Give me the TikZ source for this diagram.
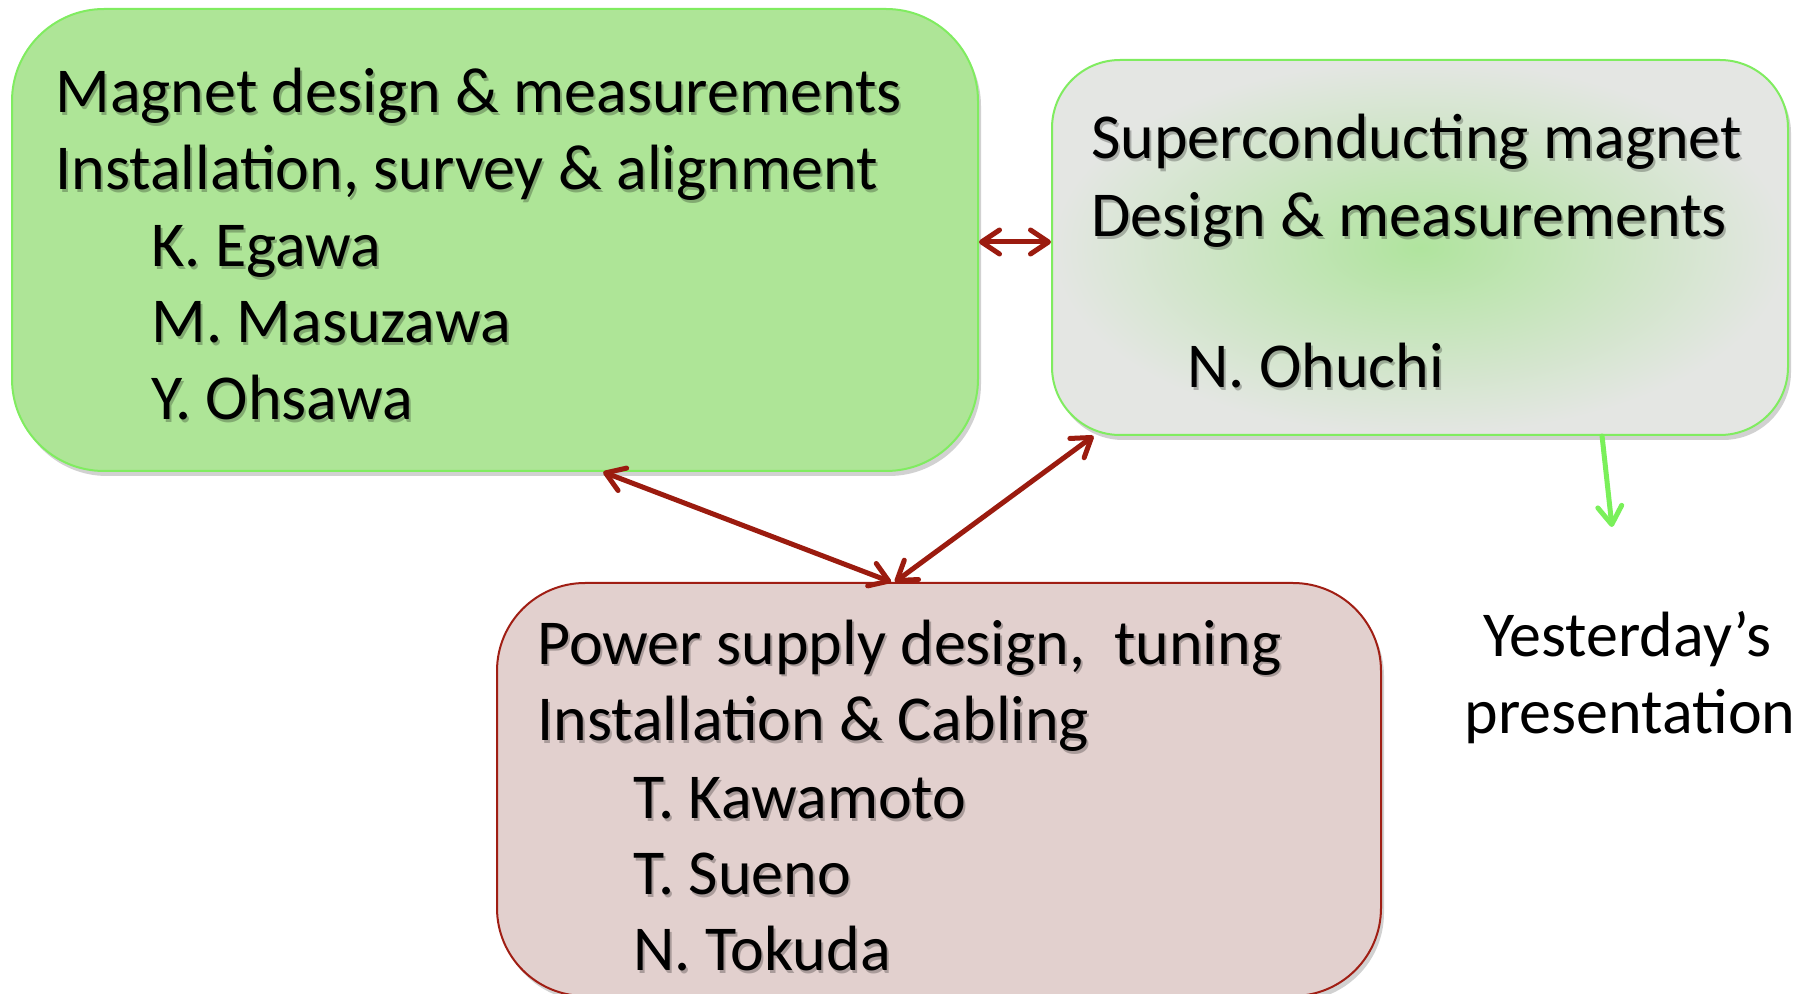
\documentclass[tikz,border=0pt]{standalone}
\usepackage{fontspec}
\setmainfont{Carlito}
\usetikzlibrary{arrows.meta,shadows}
\definecolor{gfill}{RGB}{174,229,151}
\definecolor{gline}{RGB}{128,236,96}
\definecolor{sgray}{RGB}{228,230,227}
\definecolor{sgreen}{RGB}{176,228,158}
\definecolor{pfill}{RGB}{226,208,206}
\definecolor{pline}{RGB}{160,30,20}
\definecolor{arred}{RGB}{155,27,15}
\definecolor{argreen}{RGB}{122,240,90}
\newcommand\shtxt[4]{\node[txtsh] (#1s) at (#2,#3) {#4};\node[txt] (#1) at (#2,#3) {#4};}
\tikzset{mybarb/.tip={Straight Barb[length=9pt,width=12pt,line cap=round,line join=round]}}
\begin{document}
\begin{tikzpicture}[x=0.5pt,y=-0.5pt,
  txt/.style={font=\fontsize{32}{38}\selectfont, inner sep=0pt, anchor=base west},
  txtsh/.style={txt, text=black, opacity=0.25, xshift=1pt, yshift=-1.5pt},
  box/.style={line width=1pt, rounded corners=#1, inner sep=0pt,
    drop shadow={shadow xshift=1.5pt, shadow yshift=-2.5pt, opacity=0.18, fill=black}},
  redarr/.style={draw=arred, line width=2.5pt, line cap=round, mybarb-mybarb},
  greenarr/.style={draw=argreen, line width=2.5pt, line cap=round, -mybarb},
  plain/.style={font=\fontsize{32}{38}\selectfont, inner sep=0pt, anchor=base}]
\useasboundingbox[fill=white] (0,0) rectangle (1811,994);
% boxes
\node[box=46pt, draw=gline, fill=gfill, minimum width=483pt, minimum height=231pt] (b1) at (495,240) {};
\node[box=34pt, draw=gline, inner color=sgreen, outer color=sgray, minimum width=368pt, minimum height=187.5pt] (b2) at (1420,247.5) {};
\node[box=44pt, draw=pline, fill=pfill, minimum width=442pt, minimum height=206.5pt] (b3) at (939,789.5) {};
% texts box 1
\shtxt{m1}{55}{113}{Magnet design \& measurements}
\shtxt{m2}{55}{190}{Installation, survey \& alignment}
\shtxt{m3}{151}{267}{K. Egawa}
\shtxt{m4}{151}{343}{M. Masuzawa}
\shtxt{m5}{151}{420}{Y. Ohsawa}
% texts box 2
\shtxt{s1}{1091}{159}{Superconducting magnet}
\shtxt{s2}{1091}{237}{Design \& measurements}
\shtxt{s3}{1187}{388}{N. Ohuchi}
% texts box 3
\shtxt{p1}{537}{664}{Power supply design,\ \ tuning}
\shtxt{p2}{537}{740}{Installation \& Cabling}
\shtxt{p3}{633}{818}{T. Kawamoto}
\shtxt{p4}{633}{894}{T. Sueno}
\shtxt{p5}{633}{970}{N. Tokuda}
% yesterday
\node[plain] (y1) at (1627,656) {Yesterday’s};
\node[plain] (y2) at (1630,733) {presentation};
% connectors
\draw[redarr] ([yshift=-1pt]b1.east) -- ([yshift=-1pt]b1.east -| b2.west);
\draw[redarr] (b1.-65.7) -- (b3.103.6);
\draw[redarr] (b2.210.1) -- (b3.102);
\coordinate (ye) at (1612,527);
\draw[greenarr] (b2.-46.8) -- (ye);
\end{tikzpicture}
\end{document}
